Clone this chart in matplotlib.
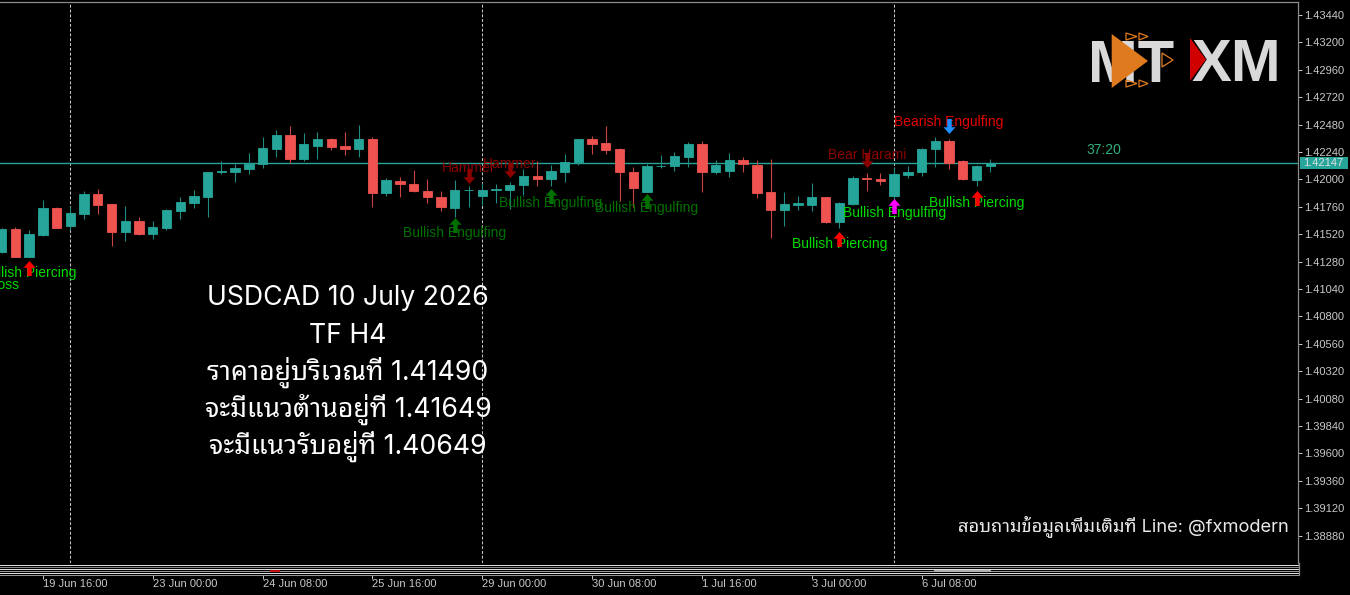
import numpy as np
import matplotlib
matplotlib.use("Agg")
import matplotlib.pyplot as plt
import matplotlib.transforms as mtransforms
from matplotlib import font_manager as fm
from matplotlib.ft2font import FT2Font
from matplotlib.path import Path
from matplotlib.lines import Line2D
from matplotlib.patches import Polygon, Rectangle

# ---------------- data ----------------
opens = [1.41364, 1.41565, 1.41323, 1.41510, 1.41752, 1.41592, 1.41699, 1.41875, 1.41782, 1.41542,
         1.41635, 1.41519, 1.41571, 1.41723, 1.41796, 1.41848, 1.42062, 1.42062, 1.42094, 1.42132,
         1.42266, 1.42389, 1.42176, 1.42295, 1.42354, 1.42295, 1.42266, 1.42354, 1.41883, 1.41986,
         1.41960, 1.41901, 1.41848, 1.41752, 1.41904, 1.41854, 1.41911, 1.41907, 1.41951, 1.42030,
         1.42003, 1.42062, 1.42150, 1.42351, 1.42316, 1.42269, 1.42065, 1.41892, 1.42117, 1.42120,
         1.42199, 1.42310, 1.42067, 1.42076, 1.42170, 1.42126, 1.41887, 1.41732, 1.41778, 1.41776,
         1.41843, 1.41629, 1.41784, 1.42008, 1.42006, 1.41854, 1.42041, 1.42062, 1.42264, 1.42336,
         1.42161, 1.41995, 1.42117]
highs = [1.41574, 1.41580, 1.41557, 1.41819, 1.41758, 1.41767, 1.41898, 1.41916, 1.41784, 1.41767,
         1.41671, 1.41633, 1.41741, 1.41848, 1.41907, 1.42069, 1.42161, 1.42135, 1.42234, 1.42374,
         1.42433, 1.42468, 1.42404, 1.42418, 1.42360, 1.42418, 1.42476, 1.42374, 1.42015, 1.42024,
         1.42082, 1.42003, 1.41898, 1.41995, 1.41945, 1.41971, 1.41960, 1.41980, 1.42088, 1.42164,
         1.42126, 1.42220, 1.42354, 1.42380, 1.42468, 1.42271, 1.42111, 1.42135, 1.42211, 1.42240,
         1.42330, 1.42336, 1.42170, 1.42234, 1.42194, 1.42170, 1.42179, 1.41887, 1.41854, 1.41966,
         1.41846, 1.41805, 1.42030, 1.42053, 1.42059, 1.42111, 1.42117, 1.42272, 1.42374, 1.42351,
         1.42170, 1.42126, 1.42176]
lows = [1.41355, 1.41320, 1.41320, 1.41504, 1.41574, 1.41557, 1.41656, 1.41699, 1.41419, 1.41460,
        1.41517, 1.41475, 1.41559, 1.41656, 1.41752, 1.41671, 1.42045, 1.41980, 1.42045, 1.42102,
        1.42199, 1.42141, 1.42161, 1.42176, 1.42257, 1.42214, 1.42199, 1.41755, 1.41857, 1.41843,
        1.41892, 1.41791, 1.41726, 1.41673, 1.41761, 1.41776, 1.41796, 1.41738, 1.41863, 1.41942,
        1.41942, 1.41980, 1.42126, 1.42222, 1.42220, 1.41813, 1.41761, 1.41890, 1.42097, 1.42073,
        1.42111, 1.41892, 1.42047, 1.42018, 1.42062, 1.41834, 1.41484, 1.41592, 1.41732, 1.41723,
        1.41615, 1.41571, 1.41776, 1.41898, 1.41948, 1.41819, 1.42015, 1.42032, 1.42111, 1.42094,
        1.41995, 1.41942, 1.42067]
closes = [1.41565, 1.41323, 1.41519, 1.41752, 1.41577, 1.41706, 1.41875, 1.41773, 1.41542, 1.41635,
          1.41519, 1.41583, 1.41734, 1.41805, 1.41857, 1.42067, 1.42076, 1.42097, 1.42135, 1.42272,
          1.42389, 1.42176, 1.42310, 1.42354, 1.42286, 1.42269, 1.42354, 1.41883, 1.41995, 1.41957,
          1.41896, 1.41843, 1.41761, 1.41907, 1.41907, 1.41907, 1.41913, 1.41953, 1.42030, 1.42003,
          1.42073, 1.42155, 1.42351, 1.42310, 1.42257, 1.42062, 1.41927, 1.42117, 1.42120, 1.42208,
          1.42310, 1.42067, 1.42126, 1.42170, 1.42132, 1.41883, 1.41732, 1.41782, 1.41796, 1.41843,
          1.41629, 1.41791, 1.42015, 1.42004, 1.41986, 1.42047, 1.42067, 1.42264, 1.42336, 1.42146,
          1.42001, 1.42120, 1.42147]

current_price = 1.42147
countdown = "37:20"

time_tick_idx = [3, 11, 19, 27, 35, 43, 51, 59, 67]
time_tick_labels = ["19 Jun 16:00", "23 Jun 00:00", "24 Jun 08:00", "25 Jun 16:00", "29 Jun 00:00",
                    "30 Jun 08:00", "1 Jul 16:00", "3 Jul 00:00", "6 Jul 08:00"]
week_start_idx = [5, 35, 65]

price_ticks = [1.43440, 1.43200, 1.42960, 1.42720, 1.42480, 1.42240, 1.42000, 1.41760, 1.41520, 1.41280,
               1.41040, 1.40800, 1.40560, 1.40320, 1.40080, 1.39840, 1.39600, 1.39360, 1.39120, 1.38880]

pattern_idx = [2, 33, 34, 37, 40, 47, 61, 63, 65, 69, 71]
pattern_names = ["Bullish Piercing", "Bullish Engulfing", "Hammer", "Hammer", "Bullish Engulfing",
                 "Bullish Engulfing", "Bullish Piercing", "Bear Harami", "Bullish Engulfing",
                 "Bearish Engulfing", "Bullish Piercing"]
pattern_dir = ["up", "up", "down", "down", "up", "up", "up", "down", "up", "down", "up"]

info_lines = ["USDCAD 10 July 2026", "TF H4", "ราคาอยู่บริเวณที่ 1.41490",
              "จะมีแนวต้านอยู่ที่ 1.41649", "จะมีแนวรับอยู่ที่ 1.40649"]
contact_text = "สอบถามข้อมูลเพิ่มเติมที่ Line: @fxmodern"

# ---------------- styles ----------------
W, H = 1350, 595
BULL, BEAR = "#26a69a", "#ef5350"
BULL_W, BEAR_W = "#1f8a80", "#c94441"
GRID_TXT = "#c8c8c8"
FRAME = "#8c8c8c"
BRIGHT_G, DARK_G, DARK_R, RED = "#00dc00", "#007000", "#8c0000", "#e60000"
pat_text_col = [BRIGHT_G, DARK_G, DARK_R, DARK_R, DARK_G, DARK_G, BRIGHT_G, DARK_R, BRIGHT_G, RED, BRIGHT_G]
pat_arrow_col = ["#ff0000", DARK_G, DARK_R, DARK_R, DARK_G, DARK_G, "#ff0000", DARK_R, "#ff00ff", "#1e90ff", "#ff0000"]
pat_gap_px = [10.5, 8.3, 9.7, 11.2, 10.0, 9.3, 10.7, 13.6, 6.3, 13.5, 11.5]
pat_text_shift_px = [5.2, 7.7, 8.0, 6.5, 6.7, 7.0, 5.0, 4.4, 6.4, 4.0, 5.2]


def _font_has(path, text):
    try:
        cmap = FT2Font(path).get_charmap()
    except Exception:
        return False
    return all(ord(ch) in cmap for ch in text if not ch.isspace())


thai_sample = "ราคาอยู่บริเวณที่จะมีแนวต้านรับสอบถามข้อมูลเพิ่มเติม"
thai_names = []
for fe in fm.fontManager.ttflist:
    if fe.name not in thai_names and _font_has(fe.fname, thai_sample):
        thai_names.append(fe.name)
pref = [n for n in thai_names if "Noto Sans Thai" in n] + [n for n in thai_names if "Sarabun" in n]
thai_font = (pref + thai_names)[:1]
MAIN_FAM = ["Inter", "Noto Sans"] + thai_font + ["DejaVu Sans"]
LAB_FAM = ["Liberation Sans", "DejaVu Sans"]


def F(x, y):
    """figure-pixel (from top-left) -> figure fraction"""
    return (x / W, 1 - y / H)


fig = plt.figure(figsize=(W / 100, H / 100), dpi=100, facecolor="black")
ax = fig.add_axes([0, 1 - 563 / H, 1298 / W, (563 - 2) / H])
ax.set_facecolor("black")
XL = (-0.1238, 94.413)
ax.set_xlim(*XL)
ax.set_ylim(1.386395, 1.435539)
for s in ["left", "bottom"]:
    ax.spines[s].set_visible(False)
for s in ["top", "right"]:
    ax.spines[s].set_color(FRAME)
    ax.spines[s].set_linewidth(0.9)
ax.set_xticks([])
ax.yaxis.tick_right()
ax.set_yticks(price_ticks)
ax.set_yticklabels([f"{v:.5f}" for v in price_ticks], fontfamily=LAB_FAM, fontsize=8, color=GRID_TXT)
ax.tick_params(axis="y", colors=GRID_TXT, length=2.9, width=0.7, pad=1.2, labelcolor=GRID_TXT)

# week separators
for i in week_start_idx:
    ax.axvline(i, color="#c8c8c8", lw=0.75, ls=(0, (2.8, 1.8)), zorder=1)

# current price line
ax.axhline(current_price, color=BULL, lw=1.0, zorder=1.5)

# candles
x = np.arange(len(opens))
o = np.array(opens); c = np.array(closes); h = np.array(highs); l = np.array(lows)
up = c >= o
body_col = np.where(up, BULL, BEAR)
wick_col = np.where(up, BULL_W, BEAR_W)
ax.vlines(x, l, h, colors=wick_col, linewidth=0.8, zorder=2)
ax.bar(x, np.maximum(np.abs(c - o), 0.00002), bottom=np.minimum(o, c), width=0.68,
       color=body_col, edgecolor=body_col, linewidth=0.6, zorder=3)

# pattern arrows & labels
arrow_verts = [(-0.8, 0.1), (0, 1), (0.8, 0.1), (0.3, 0.1), (0.3, -1), (-0.3, -1), (-0.3, 0.1), (-0.8, 0.1)]
codes = [Path.MOVETO] + [Path.LINETO] * 6 + [Path.CLOSEPOLY]
arrow_up = Path(arrow_verts, codes)
arrow_dn = Path([(vx, -vy) for vx, vy in arrow_verts], codes)
for k, i in enumerate(pattern_idx):
    gap = pat_gap_px[k] * 0.72
    sh = pat_text_shift_px[k] * 0.72
    if pattern_dir[k] == "up":
        anchor = l[i]; dy_arrow = -gap; dy_text = -(gap + sh); mk = arrow_up
    else:
        anchor = h[i]; dy_arrow = gap; dy_text = gap + sh; mk = arrow_dn
    ax.annotate(pattern_names[k], xy=(i, anchor), xytext=(0, dy_text), textcoords="offset points",
                ha="center", va="center", fontsize=10, fontfamily=LAB_FAM, color=pat_text_col[k],
                zorder=4, annotation_clip=False)
    tr = mtransforms.offset_copy(ax.transData, fig=fig, x=0, y=dy_arrow, units="points")
    ax.plot([i], [anchor], marker=mk, markersize=10.8, color=pat_arrow_col[k], markeredgewidth=0,
            transform=tr, zorder=5, linestyle="none")

# off-screen label fragment at the left edge
fig.text(*F(19, 285), "Bullish Harami Cross", ha="right", va="center", fontsize=10,
         fontfamily=LAB_FAM, color=BRIGHT_G)

# price label box on the axis
fig.patches.append(Rectangle(F(1300, 168.5), 48 / W, 11 / H, transform=fig.transFigure,
                             facecolor=BULL, edgecolor="none", zorder=6))
fig.text(*F(1303, 163), f"{current_price:.5f}", ha="left", va="center", fontsize=8,
         fontfamily=LAB_FAM, color="#e0e0e0", zorder=7)

# countdown
fig.text(*F(1104, 150), countdown, ha="center", va="center", fontsize=10, fontfamily=LAB_FAM,
         color="#2fae7d")

# bottom stripes (collapsed sub-window / scroll area)
stripe_y = [564.5, 566.5, 568.5, 570.5, 572.5, 574.5]
stripe_c = ["#e6e6e6", "#8a8a8a", "#e6e6e6", "#a0a0a0", "#e6e6e6", "#9a9a9a"]
for yy, cc in zip(stripe_y, stripe_c):
    fig.add_artist(Line2D([0, 1298 / W], [1 - yy / H] * 2, transform=fig.transFigure, color=cc, lw=0.7))
fig.add_artist(Line2D([935 / W, 990 / W], [1 - 571.3 / H] * 2, transform=fig.transFigure,
                      color="#b0b0b0", lw=1.5))
fig.add_artist(Line2D([271 / W, 279 / W], [1 - 570.8 / H] * 2, transform=fig.transFigure,
                      color="#e00000", lw=1.2))
fig.add_artist(Line2D([1298.5 / W] * 2, [1 - 563 / H, 1 - 575 / H], transform=fig.transFigure,
                      color=FRAME, lw=0.9))

# time axis
tax = fig.add_axes([0, 1 - 575 / H, 1298 / W, 0.5 / H])
tax.patch.set_alpha(0)
for s in tax.spines.values():
    s.set_visible(False)
tax.set_xlim(*XL)
tax.set_yticks([])
tax.set_xticks(time_tick_idx)
tax.set_xticklabels(time_tick_labels, ha="left", fontfamily=LAB_FAM, fontsize=8, color=GRID_TXT)
tax.tick_params(axis="x", length=2.9, width=0.7, color=GRID_TXT, pad=0.2, direction="out")

# info text block
baselines = [305, 342.7, 379.3, 417, 453.3]
for t, yb in zip(info_lines, baselines):
    fig.text(*F(348, yb), t, ha="center", va="baseline", fontsize=19.2, fontfamily=MAIN_FAM,
             color="white")
fig.text(*F(1289, 531), contact_text, ha="right", va="baseline", fontsize=13.2,
         fontfamily=MAIN_FAM, color="#e8e8e8")

# logo
LOGO = "#d9d9d9"
ORANGE = "#e07a1f"
fig.text(*F(1088, 82), "MT", ha="left", va="baseline", fontsize=43, fontweight="bold",
         fontfamily=LAB_FAM, color=LOGO)
fig.patches.append(Polygon([F(1111.7, 34), F(1111.7, 88), F(1148, 61)], closed=True,
                           transform=fig.transFigure, facecolor=ORANGE, edgecolor="none", zorder=5))
for (x0, x1, y0, y1) in [(1126, 1137, 33, 40), (1139, 1148, 33, 40), (1162, 1173, 53, 67),
                         (1126, 1137, 80, 87), (1139, 1148, 80, 87)]:
    fig.patches.append(Polygon([F(x0, y0), F(x1, (y0 + y1) / 2), F(x0, y1)], closed=True,
                               transform=fig.transFigure, fill=False, edgecolor=ORANGE, lw=0.9, zorder=5))
fig.text(*F(1191, 81), "XM", ha="left", va="baseline", fontsize=43, fontweight="bold",
         fontfamily=LAB_FAM, color=LOGO)
fig.patches.append(Polygon([F(1190, 38), F(1190, 81), F(1206, 59.5)], closed=True,
                           transform=fig.transFigure, facecolor="#d00000", edgecolor="none", zorder=5))

fig.savefig("out.png", dpi=100, facecolor="black")
